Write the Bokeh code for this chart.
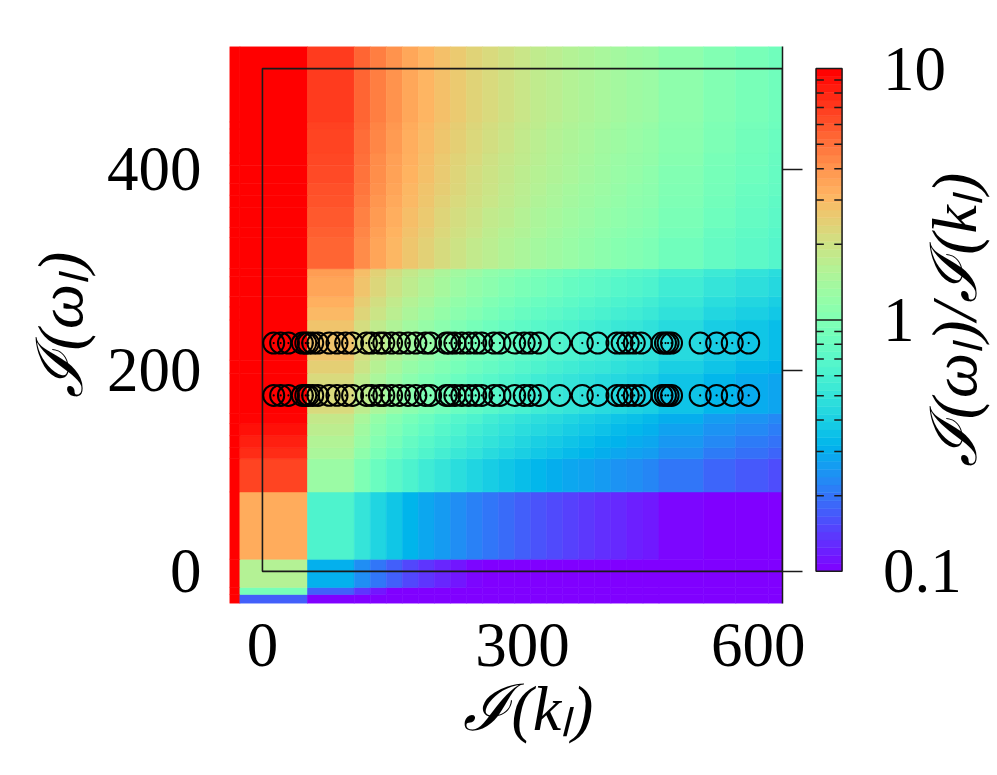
import math
from bokeh.plotting import figure
from bokeh.models import ColumnDataSource, LogColorMapper, LinearAxis, FixedTicker, Range1d
from bokeh.core.properties import value
from bokeh.layouts import row
from bokeh.embed import file_html
from bokeh.resources import INLINE

# ---- data ----
# I(k_l) cell edges (x) and the I(k_l) value of each column
k_edges = [-38, -26, 52, 106, 124.5, 143, 161.5, 180, 198.5, 217, 235.5, 254, 272.5,
           291, 309.5, 328, 346.5, 365, 383.5, 402, 420.5, 439, 457.5, 509, 546, 584, 600]
k_vals = [0.2, 13, 68, 87, 104, 120, 137, 153, 169, 185, 201, 217, 233,
          250, 266, 282, 298, 314, 330, 346, 362, 378, 420, 470, 510, 545]
# I(omega_l) cell edges (y) and the I(omega_l) value of each row
w_edges = [-32, -23, -16, 12, 79, 112, 123, 135, 147, 157, 197, 210, 250, 263, 273,
           293, 301, 332, 342, 362, 374, 386, 404, 416, 440, 447, 522]
w_vals = [2.3, 12, 21, 44, 86, 100, 108, 117, 126, 152, 170, 187, 205, 220, 240,
          255, 370, 385, 400, 415, 425, 435, 445, 455, 465, 480]
# measured points (circles): I(k_l) positions, two I(omega_l) levels
pts_k = [13, 21, 30, 46, 50, 53, 58, 64, 77, 86, 96, 104, 120, 126, 135, 140, 149,
         158, 168, 177, 188, 194, 212, 216, 222, 230, 238, 246, 253, 267, 274, 291,
         302, 309, 319, 343, 369, 387, 409, 415, 422, 429, 437, 461, 465, 468, 472,
         505, 524, 542, 561]
pts_w = [227, 175]
x_ticks = [0, 300, 600]
y_ticks = [0, 200, 400]
cb_ticks = [0.1, 1, 10]
cb_tick_labels = ["0.1", "1", "10"]
cb_title = "ℐ(ωₗ)/ℐ(kₗ)"
box_x = [0, 600]
box_y = [0, 500]

# ---- rainbow palette ----
pal = []
for i in range(256):
    n = i / 255
    r = min(1.0, abs(2 * n - 0.5))
    g = math.sin(math.pi * n)
    b = math.cos(math.pi * n / 2)
    pal.append("#%02x%02x%02x" % (round(r * 255), round(g * 255), round(b * 255)))
mapper = LogColorMapper(palette=pal, low=0.1, high=10)

L, R, B, T, V = [], [], [], [], []
for j in range(len(w_vals)):
    for i in range(len(k_vals)):
        L.append(k_edges[i]); R.append(k_edges[i + 1])
        B.append(w_edges[j]); T.append(w_edges[j + 1])
        V.append(w_vals[j] / k_vals[i])
src = ColumnDataSource(dict(l=L, r=R, b=B, t=T, v=V))

FONT = "Liberation Serif"
TICK_FS = "63px"
LAB_FS = "64px"
FRAME_H = 557
TOP = 46
BOTTOM = 164

p = figure(frame_width=553, frame_height=FRAME_H, x_range=Range1d(k_edges[0], k_edges[-1]),
           y_range=Range1d(w_edges[0], w_edges[-1]), output_backend="svg",
           toolbar_location=None, min_border_left=229, min_border_right=23,
           min_border_top=TOP, min_border_bottom=BOTTOM)
p.outline_line_color = None
p.grid.visible = False

p.quad(left="l", right="r", bottom="b", top="t", source=src,
       fill_color={"field": "v", "transform": mapper},
       line_color={"field": "v", "transform": mapper}, line_width=0.6)
p.quad(left=box_x[0], right=box_x[1], bottom=box_y[0], top=box_y[1],
       fill_color=None, line_color="#1a1a1a", line_width=1.6)

xs = pts_k * len(pts_w)
ys = [w for w in pts_w for _ in pts_k]
p.scatter(xs, ys, marker="circle", size=21, fill_color=None, line_color="black", line_width=2)
p.scatter(xs, ys, marker="circle", size=2.2, fill_color="black", line_color=None)

for ax, ticks in ((p.xaxis[0], x_ticks), (p.yaxis[0], y_ticks)):
    ax.ticker = FixedTicker(ticks=ticks)
    ax.axis_line_color = None
    ax.major_tick_out = 0
    ax.major_tick_in = 0
    ax.minor_tick_out = 0
    ax.minor_tick_in = 0
    ax.major_label_text_font = FONT
    ax.major_label_text_font_size = TICK_FS
    ax.major_label_text_color = "black"
    ax.axis_label_text_font = FONT
    ax.axis_label_text_font_style = "italic"
    ax.axis_label_text_font_size = LAB_FS
    ax.axis_label_text_color = "black"
p.xaxis[0].axis_label = "\u2002\u2009ℐ(kₗ)"
p.xaxis[0].major_label_standoff = 20
p.xaxis[0].axis_label_standoff = 4
p.yaxis[0].axis_label = "ℐ(ωₗ)"
p.yaxis[0].major_label_standoff = 28
p.yaxis[0].axis_label_standoff = 8

rax = LinearAxis(ticker=FixedTicker(ticks=y_ticks), major_tick_out=20, major_tick_in=0,
                 minor_tick_out=0, minor_tick_in=0, axis_line_width=1.5,
                 axis_line_color="#1a1a1a", major_tick_line_color="#1a1a1a",
                 major_tick_line_width=1.5, major_label_text_font_size="4px",
                 major_label_text_color=None, major_label_standoff=0)
p.add_layout(rax, "right")

# ---- colour bar panel: bar in x 0..1, tick labels and title drawn to its right ----
px_per_dec = (FRAME_H * (box_y[1] - box_y[0]) / (w_edges[-1] - w_edges[0])) / 2
lo_pad = (box_y[0] - w_edges[0]) * FRAME_H / (w_edges[-1] - w_edges[0]) / px_per_dec
hi_pad = (w_edges[-1] - box_y[1]) * FRAME_H / (w_edges[-1] - w_edges[0]) / px_per_dec
BAR_PX = 26          # bar width in pixels (one x unit)
CB_FRAME_W = 180
x0 = -0.06
cb = figure(frame_width=CB_FRAME_W, frame_height=FRAME_H,
            x_range=Range1d(x0, x0 + CB_FRAME_W / BAR_PX),
            y_range=Range1d(10 ** (-1 - lo_pad), 10 ** (1 + hi_pad)), y_axis_type="log",
            x_axis_location=None, y_axis_location=None, output_backend="svg",
            toolbar_location=None, min_border_left=9, min_border_right=0,
            min_border_top=TOP, min_border_bottom=BOTTOM)
cb.grid.visible = False
cb.outline_line_color = None
NB = 64
bb = [10 ** (-1 + 2 * k / NB) for k in range(NB)]
bt = [10 ** (-1 + 2 * (k + 1) / NB) for k in range(NB)]
bc = [pal[min(255, int(round((k + 0.5) * 256 / NB)))] for k in range(NB)]
cb.quad(left=0, right=1, bottom=bb, top=bt, fill_color=bc, line_color=bc, line_width=0.5)
minor = [m * d for d in (0.1, 1) for m in range(2, 10)]
cb.segment(x0=[0] * len(minor), x1=[0.3] * len(minor), y0=minor, y1=minor,
           line_color="#1a1a1a", line_width=1.5)
cb.segment(x0=[0.7] * len(minor), x1=[1] * len(minor), y0=minor, y1=minor,
           line_color="#1a1a1a", line_width=1.5)
cb.segment(x0=[0], x1=[1], y0=[1], y1=[1], line_color="#1a1a1a", line_width=1.5)
cb.quad(left=0, right=1, bottom=cb_ticks[0], top=cb_ticks[-1], fill_color=None,
        line_color="#1a1a1a", line_width=1.5)

LBL_X = 67 / BAR_PX      # tick labels start 67 px right of the bar
TTL_X = 138 / BAR_PX     # title centre 138 px right of the bar
cb.text(x=[LBL_X] * len(cb_ticks), y=cb_ticks, text=cb_tick_labels,
        text_align="left", text_baseline="middle", text_font=value(FONT),
        text_font_size=TICK_FS, text_color="black")
cb.text(x=[TTL_X], y=[1], text=[cb_title], angle=math.pi / 2,
        text_align="center", text_baseline="middle", text_font=value(FONT),
        text_font_style="italic", text_font_size=LAB_FS, text_color="black")

layout = row(p, cb)
open("out.html", "w").write(file_html(layout, INLINE))
